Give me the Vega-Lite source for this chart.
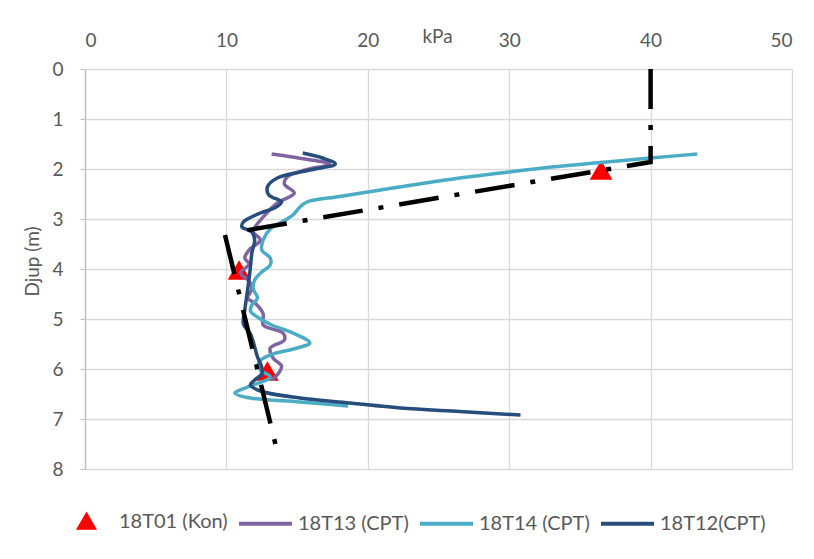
{
  "$schema": "https://vega.github.io/schema/vega-lite/v6.json",
  "width": 707,
  "height": 400,
  "autosize": {"type": "none"},
  "padding": {"left": 85, "top": 69, "right": 22, "bottom": 90},
  "background": "white",
  "config": {
    "view": {"stroke": null},
    "font": "Lato",
    "axis": {
      "gridColor": "#d9d9d9",
      "gridWidth": 1.3,
      "labelFont": "Lato",
      "labelFontSize": 19,
      "labelColor": "#595959",
      "titleFont": "Lato",
      "titleFontSize": 19,
      "titleColor": "#595959",
      "titleFontWeight": "normal"
    }
  },
  "datasets": {
    "kon": [
      {"serie": "18T01 (Kon)", "kPa": 36.5, "djup": 2.02},
      {"serie": "18T01 (Kon)", "kPa": 10.9, "djup": 4.02},
      {"serie": "18T01 (Kon)", "kPa": 12.9, "djup": 6.04}
    ],
    "cpt": [
      {"serie": "18T13 (CPT)", "kPa": 13.2, "djup": 1.70},
      {"serie": "18T13 (CPT)", "kPa": 15.3, "djup": 1.79},
      {"serie": "18T13 (CPT)", "kPa": 17.3, "djup": 1.90},
      {"serie": "18T13 (CPT)", "kPa": 15.6, "djup": 2.02},
      {"serie": "18T13 (CPT)", "kPa": 14.3, "djup": 2.16},
      {"serie": "18T13 (CPT)", "kPa": 14.1, "djup": 2.30},
      {"serie": "18T13 (CPT)", "kPa": 14.8, "djup": 2.48},
      {"serie": "18T13 (CPT)", "kPa": 13.6, "djup": 2.68},
      {"serie": "18T13 (CPT)", "kPa": 12.6, "djup": 2.96},
      {"serie": "18T13 (CPT)", "kPa": 11.9, "djup": 3.25},
      {"serie": "18T13 (CPT)", "kPa": 12.4, "djup": 3.42},
      {"serie": "18T13 (CPT)", "kPa": 11.6, "djup": 3.62},
      {"serie": "18T13 (CPT)", "kPa": 11.3, "djup": 3.78},
      {"serie": "18T13 (CPT)", "kPa": 11.6, "djup": 3.90},
      {"serie": "18T13 (CPT)", "kPa": 11.0, "djup": 4.08},
      {"serie": "18T13 (CPT)", "kPa": 11.6, "djup": 4.24},
      {"serie": "18T13 (CPT)", "kPa": 11.8, "djup": 4.40},
      {"serie": "18T13 (CPT)", "kPa": 11.5, "djup": 4.58},
      {"serie": "18T13 (CPT)", "kPa": 12.1, "djup": 4.70},
      {"serie": "18T13 (CPT)", "kPa": 12.6, "djup": 4.90},
      {"serie": "18T13 (CPT)", "kPa": 12.6, "djup": 5.12},
      {"serie": "18T13 (CPT)", "kPa": 14.0, "djup": 5.28},
      {"serie": "18T13 (CPT)", "kPa": 14.1, "djup": 5.42},
      {"serie": "18T13 (CPT)", "kPa": 13.1, "djup": 5.58},
      {"serie": "18T13 (CPT)", "kPa": 13.3, "djup": 5.78},
      {"serie": "18T13 (CPT)", "kPa": 13.9, "djup": 5.94},
      {"serie": "18T13 (CPT)", "kPa": 13.7, "djup": 6.08},
      {"serie": "18T13 (CPT)", "kPa": 13.2, "djup": 6.22},
      {"serie": "18T14 (CPT)", "kPa": 43.3, "djup": 1.70},
      {"serie": "18T14 (CPT)", "kPa": 40.0, "djup": 1.78},
      {"serie": "18T14 (CPT)", "kPa": 36.5, "djup": 1.87},
      {"serie": "18T14 (CPT)", "kPa": 33.0, "djup": 1.96},
      {"serie": "18T14 (CPT)", "kPa": 30.0, "djup": 2.06},
      {"serie": "18T14 (CPT)", "kPa": 25.0, "djup": 2.24},
      {"serie": "18T14 (CPT)", "kPa": 20.9, "djup": 2.42},
      {"serie": "18T14 (CPT)", "kPa": 18.0, "djup": 2.55},
      {"serie": "18T14 (CPT)", "kPa": 15.7, "djup": 2.66},
      {"serie": "18T14 (CPT)", "kPa": 15.2, "djup": 2.76},
      {"serie": "18T14 (CPT)", "kPa": 14.7, "djup": 2.92},
      {"serie": "18T14 (CPT)", "kPa": 13.8, "djup": 3.08},
      {"serie": "18T14 (CPT)", "kPa": 13.1, "djup": 3.20},
      {"serie": "18T14 (CPT)", "kPa": 12.6, "djup": 3.42},
      {"serie": "18T14 (CPT)", "kPa": 12.5, "djup": 3.62},
      {"serie": "18T14 (CPT)", "kPa": 13.1, "djup": 3.78},
      {"serie": "18T14 (CPT)", "kPa": 13.1, "djup": 3.92},
      {"serie": "18T14 (CPT)", "kPa": 12.5, "djup": 4.06},
      {"serie": "18T14 (CPT)", "kPa": 12.0, "djup": 4.22},
      {"serie": "18T14 (CPT)", "kPa": 11.9, "djup": 4.40},
      {"serie": "18T14 (CPT)", "kPa": 12.2, "djup": 4.58},
      {"serie": "18T14 (CPT)", "kPa": 11.8, "djup": 4.72},
      {"serie": "18T14 (CPT)", "kPa": 11.7, "djup": 4.84},
      {"serie": "18T14 (CPT)", "kPa": 12.3, "djup": 4.98},
      {"serie": "18T14 (CPT)", "kPa": 13.2, "djup": 5.12},
      {"serie": "18T14 (CPT)", "kPa": 14.7, "djup": 5.28},
      {"serie": "18T14 (CPT)", "kPa": 15.9, "djup": 5.48},
      {"serie": "18T14 (CPT)", "kPa": 15.0, "djup": 5.58},
      {"serie": "18T14 (CPT)", "kPa": 13.1, "djup": 5.72},
      {"serie": "18T14 (CPT)", "kPa": 12.3, "djup": 5.86},
      {"serie": "18T14 (CPT)", "kPa": 12.4, "djup": 6.02},
      {"serie": "18T14 (CPT)", "kPa": 13.1, "djup": 6.16},
      {"serie": "18T14 (CPT)", "kPa": 11.5, "djup": 6.36},
      {"serie": "18T14 (CPT)", "kPa": 10.6, "djup": 6.48},
      {"serie": "18T14 (CPT)", "kPa": 11.7, "djup": 6.58},
      {"serie": "18T14 (CPT)", "kPa": 15.2, "djup": 6.66},
      {"serie": "18T14 (CPT)", "kPa": 18.6, "djup": 6.74},
      {"serie": "18T12(CPT)", "kPa": 15.4, "djup": 1.68},
      {"serie": "18T12(CPT)", "kPa": 16.8, "djup": 1.78},
      {"serie": "18T12(CPT)", "kPa": 17.7, "djup": 1.90},
      {"serie": "18T12(CPT)", "kPa": 15.9, "djup": 2.02},
      {"serie": "18T12(CPT)", "kPa": 13.6, "djup": 2.18},
      {"serie": "18T12(CPT)", "kPa": 12.9, "djup": 2.36},
      {"serie": "18T12(CPT)", "kPa": 13.0, "djup": 2.52},
      {"serie": "18T12(CPT)", "kPa": 13.9, "djup": 2.66},
      {"serie": "18T12(CPT)", "kPa": 13.4, "djup": 2.78},
      {"serie": "18T12(CPT)", "kPa": 12.4, "djup": 2.88},
      {"serie": "18T12(CPT)", "kPa": 11.2, "djup": 3.06},
      {"serie": "18T12(CPT)", "kPa": 11.1, "djup": 3.16},
      {"serie": "18T12(CPT)", "kPa": 11.8, "djup": 3.26},
      {"serie": "18T12(CPT)", "kPa": 12.0, "djup": 3.42},
      {"serie": "18T12(CPT)", "kPa": 11.8, "djup": 3.68},
      {"serie": "18T12(CPT)", "kPa": 11.7, "djup": 3.96},
      {"serie": "18T12(CPT)", "kPa": 11.5, "djup": 4.42},
      {"serie": "18T12(CPT)", "kPa": 11.3, "djup": 4.82},
      {"serie": "18T12(CPT)", "kPa": 11.2, "djup": 5.10},
      {"serie": "18T12(CPT)", "kPa": 11.7, "djup": 5.30},
      {"serie": "18T12(CPT)", "kPa": 12.0, "djup": 5.56},
      {"serie": "18T12(CPT)", "kPa": 12.2, "djup": 5.76},
      {"serie": "18T12(CPT)", "kPa": 12.5, "djup": 5.96},
      {"serie": "18T12(CPT)", "kPa": 12.5, "djup": 6.10},
      {"serie": "18T12(CPT)", "kPa": 12.0, "djup": 6.22},
      {"serie": "18T12(CPT)", "kPa": 11.7, "djup": 6.32},
      {"serie": "18T12(CPT)", "kPa": 12.4, "djup": 6.44},
      {"serie": "18T12(CPT)", "kPa": 15.2, "djup": 6.58},
      {"serie": "18T12(CPT)", "kPa": 18.7, "djup": 6.68},
      {"serie": "18T12(CPT)", "kPa": 22.3, "djup": 6.78},
      {"serie": "18T12(CPT)", "kPa": 26.5, "djup": 6.85},
      {"serie": "18T12(CPT)", "kPa": 30.8, "djup": 6.92}
    ],
    "trend": [
      {"seg": "A", "kPa": 40.0, "djup": 0.0},
      {"seg": "A", "kPa": 40.0, "djup": 1.86},
      {"seg": "A", "kPa": 10.7, "djup": 3.26},
      {"seg": "B", "kPa": 9.9, "djup": 3.32},
      {"seg": "B", "kPa": 13.6, "djup": 7.66}
    ]
  },
  "encoding": {
    "x": {
      "field": "kPa",
      "type": "quantitative",
      "scale": {"domain": [0, 50], "nice": false},
      "axis": {
        "orient": "top",
        "values": [0, 10, 20, 30, 40, 50],
        "title": "kPa",
        "domain": false,
        "ticks": false,
        "tickSize": 0,
        "labelPadding": 29,
        "labelBaseline": "middle",
        "titleBaseline": "middle",
        "titleAlign": "center",
        "titleX": 352,
        "titleY": -33
      }
    },
    "y": {
      "field": "djup",
      "type": "quantitative",
      "scale": {"domain": [0, 8], "reverse": true, "nice": false},
      "axis": {
        "values": [0, 1, 2, 3, 4, 5, 6, 7, 8],
        "title": "Djup (m)",
        "domain": true,
        "domainColor": "#bfbfbf",
        "domainWidth": 1.3,
        "ticks": true,
        "tickColor": "#bfbfbf",
        "tickSize": 5,
        "labelPadding": 17,
        "titlePadding": 9,
        "titleY": 192
      }
    }
  },
  "layer": [
    {
      "data": {"name": "kon"},
      "mark": {"type": "point", "shape": "triangle-up", "filled": true, "size": 520, "opacity": 1},
      "encoding": {
        "color": {
          "field": "serie",
          "type": "nominal",
          "scale": {
            "domain": ["18T01 (Kon)", "18T13 (CPT)", "18T14 (CPT)", "18T12(CPT)"],
            "range": ["#FF0000", "#8064A2", "#4BACC6", "#264D7B"]
          }
        }
      }
    },
    {
      "data": {"name": "cpt"},
      "mark": {"type": "line", "strokeWidth": 3.5, "interpolate": "catmull-rom"},
      "encoding": {
        "order": {"field": "djup", "type": "quantitative"},
        "color": {
          "field": "serie",
          "type": "nominal",
          "scale": {
            "domain": ["18T01 (Kon)", "18T13 (CPT)", "18T14 (CPT)", "18T12(CPT)"],
            "range": ["#FF0000", "#8064A2", "#4BACC6", "#264D7B"]
          },
          "legend": {
            "orient": "none",
            "legendX": -27,
            "legendY": 424,
            "direction": "horizontal",
            "columns": 4,
            "title": null,
            "labelFont": "Lato",
            "labelFontSize": 20,
            "labelColor": "#595959",
            "labelOffset": 4,
            "columnPadding": 3,
            "symbolSize": 2809,
            "symbolStrokeWidth": 4,
            "encode": {
              "symbols": {
                "update": {
                  "shape": {"signal": "datum.value === '18T01 (Kon)' ? 'triangle-up' : 'stroke'"},
                  "size": {"signal": "datum.value === '18T01 (Kon)' ? 200 : 2809"},
                  "fill": {"signal": "datum.value === '18T01 (Kon)' ? '#FF0000' : 'transparent'"},
                  "stroke": {"signal": "datum.value === '18T01 (Kon)' ? 'transparent' : scale('color', datum.value)"},
                  "strokeWidth": {"value": 4},
                  "opacity": {"value": 1}
                }
              }
            }
          }
        }
      }
    },
    {
      "data": {"name": "trend"},
      "mark": {"type": "line", "color": "black", "strokeWidth": 4.5, "strokeDash": [40, 16, 5, 16]},
      "encoding": {
        "detail": {"field": "seg", "type": "nominal"},
        "order": {"field": "djup", "type": "quantitative"}
      }
    }
  ]
}
